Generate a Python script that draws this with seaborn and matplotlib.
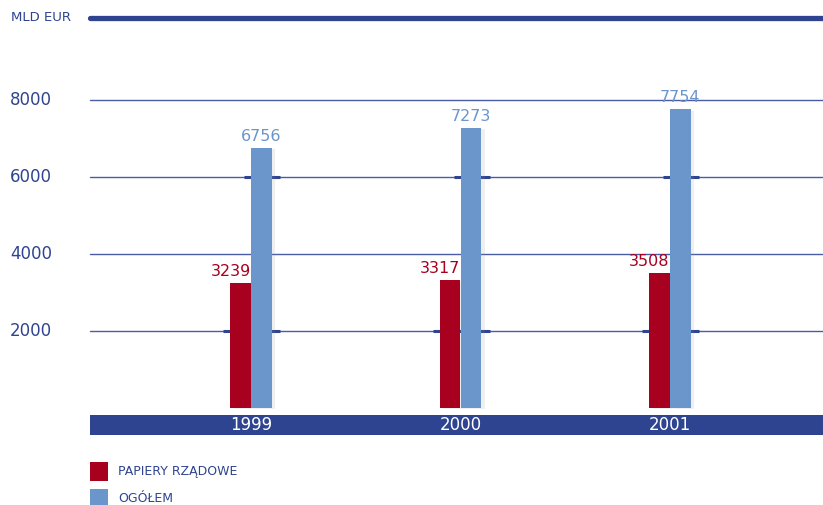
import matplotlib
matplotlib.use("Agg")
import matplotlib.pyplot as plt
import matplotlib.patheffects as pe
from matplotlib.patches import Rectangle
import pandas as pd
import seaborn as sns

# Data (MLD EUR)
years = ["1999", "2000", "2001"]
series = ["PAPIERY RZĄDOWE", "OGÓŁEM"]
govt_securities = [3239, 3317, 3508]
total = [6756, 7273, 7754]
yticks = [2000, 4000, 6000, 8000]
unit_label = "MLD EUR"

NAVY = "#2e4490"
RED = "#a8001f"
BLUE = "#6a96cc"
GRID = "#4a5ca6"

df = pd.DataFrame({
    "rok": years * 2,
    "seria": [series[0]] * len(years) + [series[1]] * len(years),
    "wartosc": govt_securities + total,
})

sns.set_theme(style="white")
plt.rcParams["font.family"] = ["DejaVu Sans"]

W, H = 823, 505
fig = plt.figure(figsize=(W / 100, H / 100), dpi=100)
ax = fig.add_axes([0, 0, 1, 1])

sns.barplot(data=df, x="rok", y="wartosc", hue="seria", order=years,
            hue_order=series, palette=[RED, BLUE], width=0.2, gap=0.03,
            dodge=True, legend=False, saturation=1, linewidth=0,
            edgecolor="none", ax=ax, zorder=3)

# soft drop shadow on the bars
for p in ax.patches:
    p.set_path_effects([pe.SimplePatchShadow(offset=(2.5, -1), shadow_rgbFace="#999999", alpha=0.15),
                        pe.Normal()])

# coordinate frame: one category step = 209.5 px, 2000 units = 77 px
step = 209.5
ax.set_xlim(-251 / step, (W - 251) / step)
ax.set_ylim(-(H - 408) / 0.0385, 408 / 0.0385)
ax.axis("off")

x0 = 90 / W
# horizontal grid and value labels
for t in yticks:
    ax.axhline(t, xmin=x0, xmax=1, color=GRID, lw=1, zorder=1)
    ax.text(10 / W, t, f"{t}", transform=ax.get_yaxis_transform(),
            ha="left", va="center", fontsize=12, color=NAVY)

# short accent marks around each group
for i in range(len(years)):
    for level, left, right in [(6000, -7, 29), (2000, -28, 29)]:
        ax.plot([i + left / step, i + right / step], [level, level],
                color=NAVY, lw=2.2, solid_capstyle="butt", zorder=2)

# heading rule and unit
top_y = (408 - 18) / 0.0385
ax.axhline(top_y, xmin=x0, xmax=1, color=NAVY, lw=3.8, zorder=2)
ax.text(11 / W, top_y, unit_label, transform=ax.get_yaxis_transform(),
        ha="left", va="center", fontsize=9.5, color=NAVY)

# category band with year labels
band_top = -(415 - 408) / 0.0385
band_bot = -(435 - 408) / 0.0385
ax.axhspan(band_bot, band_top, xmin=x0, xmax=1, color=NAVY, lw=0, zorder=2)
for i, yr in enumerate(years):
    ax.text(i, (band_top + band_bot) / 2, yr, ha="center", va="center",
            fontsize=12, color="white", zorder=4)

# value labels above bars
red_bars, blue_bars = ax.containers[0], ax.containers[1]
for p, v in zip(red_bars, govt_securities):
    ax.annotate(f"{v}", (p.get_x() + p.get_width(), p.get_height()),
                xytext=(0, 3), textcoords="offset points", ha="right",
                va="bottom", fontsize=11.5, color=RED)
for p, v in zip(blue_bars, total):
    ax.annotate(f"{v}", (p.get_x() + p.get_width() / 2, p.get_height()),
                xytext=(0, 3), textcoords="offset points", ha="center",
                va="bottom", fontsize=11.5, color=BLUE)

# legend
for k, (name, col) in enumerate(zip(series, [RED, BLUE])):
    top_px = 462 + 27 * k
    fig.patches.append(Rectangle((90 / W, (H - top_px - 19) / H), 18 / W, 19 / H,
                                 transform=fig.transFigure, color=col, lw=0))
    fig.text(118 / W, (H - top_px - 10) / H, name, ha="left", va="center",
             fontsize=9, color=NAVY)

fig.savefig("out.png", dpi=100)
